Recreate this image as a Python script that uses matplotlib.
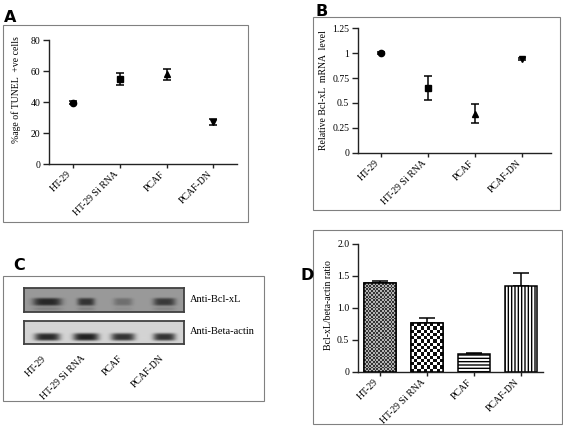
import numpy as np
import matplotlib
matplotlib.use("Agg")
import matplotlib.pyplot as plt
from matplotlib.patches import Rectangle

W, H = 563, 430
DPI = 100
SERIF = "Liberation Serif"
plt.rcParams["font.family"] = SERIF

# data
GROUPS = ["HT-29", "HT-29 Si RNA", "PCAF", "PCAF-DN"]
TUNEL = [39.5, 55, 58, 27]
TUNEL_ERR = [1.0, 3.7, 3.5, 2.0]
MRNA = [1.0, 0.65, 0.39, 0.94]
MRNA_ERR = [0.01, 0.12, 0.095, 0.012]
RATIO = [1.385, 0.765, 0.27, 1.34]
RATIO_ERR = [0.035, 0.07, 0.022, 0.2]
BCL_BANDS = [0.95, 0.85, 0.35, 0.8]
BCL_WIDTHS = [0.09, 0.055, 0.06, 0.07]
ACTIN_BANDS = [0.95, 1.0, 0.9, 0.9]
ACTIN_WIDTHS = [0.08, 0.08, 0.075, 0.07]
MARKERS = ["o", "s", "^", "v"]


def px_rect(l, t, r, b):
    return [l / W, 1 - b / H, (r - l) / W, (b - t) / H]


def box(l, t, r, b):
    fig.add_artist(Rectangle((l / W, 1 - b / H), (r - l) / W, (b - t) / H,
                             transform=fig.transFigure, fill=False,
                             edgecolor="#808080", lw=0.8))


def letter(x, y, s):
    fig.text(x / W, 1 - y / H, s, fontsize=11.5, fontweight="heavy",
             family="DejaVu Sans", ha="center", va="center")


def style(ax):
    for s in ["top", "right"]:
        ax.spines[s].set_visible(False)
    for s in ["left", "bottom"]:
        ax.spines[s].set_linewidth(1.0)
        ax.spines[s].set_color("#222222")
    ax.tick_params(axis="y", length=4, width=1, labelsize=7, pad=2, color="#222222")
    ax.tick_params(axis="x", length=3, width=1, labelsize=7, pad=1, color="#222222")
    ax.set_xticks(range(len(GROUPS)))
    ax.set_xticklabels(GROUPS, rotation=45, ha="right")


def scatter_panel(ax, vals, errs):
    for i, (v, e) in enumerate(zip(vals, errs)):
        ax.errorbar(i, v, yerr=e, fmt=MARKERS[i], color="black", ms=4.5,
                    capsize=3, elinewidth=1.1, capthick=1.1, clip_on=False)
    style(ax)


fig = plt.figure(figsize=(W / DPI, H / DPI), dpi=DPI)

# panel A
box(3, 25, 248, 222)
letter(10, 17, "A")
axA = fig.add_axes(px_rect(49, 40, 237, 164.3))
scatter_panel(axA, TUNEL, TUNEL_ERR)
axA.set_xlim(-0.5, 3.5)
axA.set_ylim(0, 80)
axA.set_yticks([0, 20, 40, 60, 80])
axA.set_ylabel("%age of TUNEL  +ve cells", fontsize=7)
axA.yaxis.set_label_coords(-0.149, 0.6)

# panel B
box(313, 17, 560, 210)
letter(322, 12, "B")
axB = fig.add_axes(px_rect(357.7, 28.3, 550.7, 152.7))
scatter_panel(axB, MRNA, MRNA_ERR)
axB.set_xlim(-0.5, 3.6)
axB.set_ylim(0, 1.25)
axB.set_yticks([0, 0.25, 0.5, 0.75, 1, 1.25])
axB.set_yticklabels(["0", "0.25", "0.5", "0.75", "1", "1.25"])
axB.set_ylabel("Relative Bcl-xL  mRNA  level", fontsize=7)
axB.yaxis.set_label_coords(-0.156, 0.5)

# panel C: blot
box(3, 276, 264, 401)
letter(19, 266, "C")
LANES = [0.144, 0.3875, 0.62, 0.88]


def blot(ax, bands, widths, bg, band_y, faint):
    nx, ny = 160, 24
    xx, yy = np.meshgrid(np.linspace(0, 1, nx), np.linspace(0, 1, ny))
    img = np.full((ny, nx), bg)
    for lx, a, w in zip(LANES, bands, widths):
        g = np.exp(-((xx - lx) / w) ** 4) * np.exp(-((yy - band_y) / 0.17) ** 4)
        img -= a * (bg - 0.13) * g
        if faint:
            g2 = np.exp(-((xx - lx) / w) ** 4) * np.exp(-((yy - band_y - 0.3) / 0.08) ** 2)
            img -= 0.1 * a * g2
    ax.imshow(img, cmap="gray", vmin=0, vmax=1, aspect="auto",
              interpolation="bilinear", extent=(0, 1, 1, 0))
    ax.set_xticks([])
    ax.set_yticks([])
    for s in ax.spines.values():
        s.set_linewidth(1.3)
        s.set_color("#404040")


axC1 = fig.add_axes(px_rect(24, 288, 184, 312))
blot(axC1, BCL_BANDS, BCL_WIDTHS, 0.6, 0.58, True)
axC2 = fig.add_axes(px_rect(24, 321, 184, 344))
blot(axC2, ACTIN_BANDS, ACTIN_WIDTHS, 0.83, 0.7, False)
fig.text(190 / W, 1 - 300 / H, "Anti-Bcl-xL", fontsize=7.5, va="center")
fig.text(190 / W, 1 - 331 / H, "Anti-Beta-actin", fontsize=7.5, va="center")
for lx, name in zip(LANES, GROUPS):
    fig.text((24 + lx * 160 + 1) / W, 1 - 354 / H, name, fontsize=7,
             rotation=45, ha="right", va="top")

# panel D
box(313, 230, 562, 424)
letter(307.5, 276, "D")
axD = fig.add_axes(px_rect(357.7, 244, 543, 371.7))
axD.set_xlim(-0.47, 3.47)
axD.set_ylim(0, 2.0)
x = np.arange(len(GROUPS))
axD.errorbar(x, RATIO, yerr=[np.zeros(len(RATIO)), RATIO_ERR], fmt="none",
             ecolor="black", capsize=6, elinewidth=1.1, capthick=1.1, zorder=1)
bars = axD.bar(x, RATIO, width=0.67, color="white", edgecolor="black",
               linewidth=1.1, zorder=2)
bars[2].set_hatch("-----")
bars[3].set_hatch("|||||")


def checker(bar, square_px, lo, hi):
    x0, w, h = bar.get_x(), bar.get_width(), bar.get_height()
    p0 = axD.transData.transform((x0, 0))
    p1 = axD.transData.transform((x0 + w, h))
    nx = max(1, int(round((p1[0] - p0[0]) / square_px)))
    ny = max(1, int(round((p1[1] - p0[1]) / square_px)))
    ii, jj = np.meshgrid(np.arange(nx), np.arange(ny))
    img = np.where((ii + jj) % 2 == 0, lo, hi)
    im = axD.imshow(img, cmap="gray", vmin=0, vmax=1, aspect="auto",
                    interpolation="nearest", extent=(x0, x0 + w, 0, h), zorder=2.5)
    im.set_clip_path(bar)
    edge = Rectangle((x0, 0), w, h, fill=False, edgecolor="black", lw=1.1, zorder=3)
    axD.add_patch(edge)


checker(bars[0], 1.8, 0.2, 0.7)
checker(bars[1], 3.3, 0.05, 1.0)
style(axD)
axD.set_xlim(-0.47, 3.47)
axD.set_yticks([0, 0.5, 1.0, 1.5, 2.0])
axD.set_yticklabels(["0", "0.5", "1.0", "1.5", "2.0"])
axD.set_ylabel("Bcl-xL/beta-actin ratio", fontsize=7)
axD.yaxis.set_label_coords(-0.133, 0.52)

fig.savefig("out.png", dpi=DPI)
